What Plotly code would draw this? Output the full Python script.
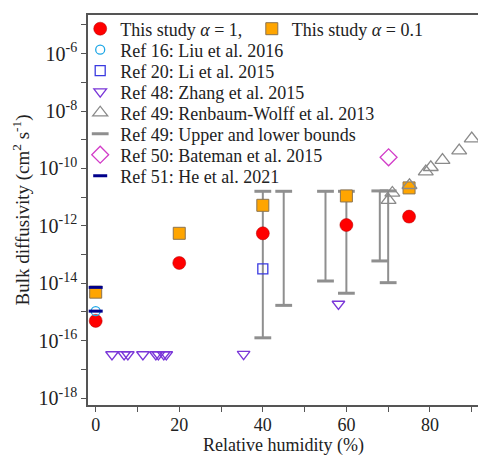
import plotly.graph_objects as go

FONT = "'Liberation Serif', 'Times New Roman', Times, 'DejaVu Serif', serif"

# ---- data (relative humidity %, bulk diffusivity cm^2 s^-1) ----
rh_alpha1 = [0, 20, 40, 60, 75]
D_alpha1 = [4.9e-16, 5.1e-14, 5.5e-13, 1.07e-12, 2.1e-12]

rh_alpha01 = [0, 20, 40, 60, 75]
D_alpha01 = [4.9e-15, 5.5e-13, 5.2e-12, 1.1e-11, 2.1e-11]

rh_ref16 = [0]
D_ref16 = [1.07e-15]

rh_ref20 = [40]
D_ref20 = [3.2e-14]

rh_ref48 = [3.9, 6.8, 7.7, 11.3, 14.4, 15.0, 16.3, 16.9, 35.4, 58.1]
D_ref48 = [3.3e-17, 3.3e-17, 3.3e-17, 3.3e-17, 3.3e-17, 3.3e-17, 3.3e-17, 3.3e-17, 3.4e-17, 1.9e-15]

rh_ref49 = [70.1, 71.0, 75.1, 79.0, 80.2, 83.0, 87.0, 90.0]
D_ref49 = [7.9e-12, 1.4e-11, 2.6e-11, 7.8e-11, 1.1e-10, 1.95e-10, 4.2e-10, 1.1e-9]

rh_bounds = [40, 45, 55, 60, 68, 70]
D_upper = [1.6e-11, 1.6e-11, 1.6e-11, 1.6e-11, 1.65e-11, 1.65e-11]
D_lower = [1.26e-16, 1.7e-15, 1.2e-14, 4.5e-15, 6.0e-14, 1.05e-14]

rh_ref50 = [70.1]
D_ref50 = [2.45e-10]

rh_ref51 = [0, 0]
D_ref51 = [7.2e-15, 1.07e-15]

y_exponents = list(range(-18, -4))
x_ticks = [0, 20, 40, 60, 80]

x_title = "Relative humidity (%)"
y_title = "Bulk diffusivity (cm<sup>2</sup> s<sup>-1</sup>)"

legend_names = {
    "a1": "This study <i>α</i> = 1,",
    "a01": "This study <i>α</i> = 0.1",
    "r16": "Ref 16: Liu et al. 2016",
    "r20": "Ref 20: Li et al. 2015",
    "r48": "Ref 48: Zhang et al. 2015",
    "r49": "Ref 49: Renbaum-Wolff et al. 2013",
    "r49b": "Ref 49: Upper and lower bounds",
    "r50": "Ref 50: Bateman et al. 2015",
    "r51": "Ref 51: He et al. 2021",
}

# ---- build bound segments from the data ----
seg_x, seg_y = [], []
for x, lo, hi in zip(rh_bounds, D_lower, D_upper):
    seg_x += [x, x, None]
    seg_y += [lo, hi, None]

BOUND_COL = "#8f8f8f"

fig = go.Figure()

fig.add_trace(go.Scatter(x=seg_x, y=seg_y, mode="lines",
                         line=dict(color=BOUND_COL, width=2),
                         showlegend=False, hoverinfo="skip"))
fig.add_trace(go.Scatter(x=rh_bounds + rh_bounds, y=D_upper + D_lower, mode="markers",
                         name=legend_names["r49b"], legend="legend7",
                         marker=dict(symbol="line-ew", size=12, color=BOUND_COL,
                                     line=dict(color=BOUND_COL, width=3))))

fig.add_trace(go.Scatter(x=rh_alpha01, y=D_alpha01, mode="markers",
                         name=legend_names["a01"], legend="legend2",
                         marker=dict(symbol="square", size=12, color="#ffa500",
                                     line=dict(color="#8a7350", width=1))))
fig.add_trace(go.Scatter(x=rh_alpha1, y=D_alpha1, mode="markers",
                         name=legend_names["a1"], legend="legend",
                         marker=dict(symbol="circle", size=13, color="#ff0000",
                                     line=dict(color="#b00000", width=0.5))))
fig.add_trace(go.Scatter(x=rh_ref16, y=D_ref16, mode="markers",
                         name=legend_names["r16"], legend="legend3",
                         marker=dict(symbol="circle-open", size=9, color="#1ea7e6",
                                     line=dict(width=1.3))))
fig.add_trace(go.Scatter(x=rh_ref20, y=D_ref20, mode="markers",
                         name=legend_names["r20"], legend="legend4",
                         marker=dict(symbol="square-open", size=10, color="#3a3ae0",
                                     line=dict(width=1.3))))
fig.add_trace(go.Scatter(x=rh_ref48, y=D_ref48, mode="markers",
                         name=legend_names["r48"], legend="legend5",
                         marker=dict(symbol="triangle-down-open", size=11, color="#7a36d8",
                                     line=dict(width=1.3))))
fig.add_trace(go.Scatter(x=rh_ref49, y=D_ref49, mode="markers",
                         name=legend_names["r49"], legend="legend6",
                         marker=dict(symbol="triangle-up-open", size=13, color="#8a8a8a",
                                     line=dict(width=1.3))))
fig.add_trace(go.Scatter(x=rh_ref50, y=D_ref50, mode="markers",
                         name=legend_names["r50"], legend="legend8",
                         marker=dict(symbol="diamond-open", size=13, color="#d23cc8",
                                     line=dict(width=1.3))))
fig.add_trace(go.Scatter(x=rh_ref51, y=D_ref51, mode="markers",
                         name=legend_names["r51"], legend="legend9",
                         marker=dict(symbol="line-ew", size=10, color="#00008b",
                                     line=dict(color="#00008b", width=3))))

AX_COL = "#555555"
TXT = "#222222"


def sup_label(k):
    if k % 2:
        return ""
    return "10<sup>%d</sup>" % k


# legend rows (pixel centre of each row inside the 478x455 page)
PLOT_TOP, PLOT_H = 15, 390
row_px = [29, 50, 71, 92, 113, 134, 155, 176]


def legend_box(px_y, x_paper):
    return dict(x=x_paper, y=1 - (px_y - PLOT_TOP) / PLOT_H,
                xanchor="left", yanchor="middle",
                bgcolor="rgba(0,0,0,0)", borderwidth=0,
                font=dict(size=18, family=FONT, color=TXT))


fig.update_layout(
    width=478, height=455,
    margin=dict(l=88, r=0, t=15, b=50, autoexpand=False),
    plot_bgcolor="white", paper_bgcolor="white",
    font=dict(family=FONT, size=18, color=TXT),
    xaxis=dict(
        range=[-1.84, 91.5], tickvals=x_ticks, automargin=False,
        ticks="outside", ticklen=5, tickwidth=1.2, tickcolor=AX_COL,
        ticklabelstandoff=-2,
        minor=dict(dtick=10, tick0=0, ticks="outside", ticklen=5, tickcolor=AX_COL, tickwidth=1.2),
        showline=True, linecolor=AX_COL, linewidth=1.5, mirror=True,
        showgrid=False, zeroline=False,
        tickfont=dict(size=18, family=FONT, color=TXT),
    ),
    yaxis=dict(
        type="log", range=[-18.24, -4.655], automargin=False,
        tickvals=[10.0 ** k for k in y_exponents],
        ticktext=[sup_label(k) for k in y_exponents],
        ticks="outside", ticklen=5, tickwidth=1.2, tickcolor=AX_COL,
        showline=True, linecolor=AX_COL, linewidth=1.5,
        showgrid=False, zeroline=False,
        tickfont=dict(size=20, family=FONT, color=TXT),
        title=dict(text=y_title, font=dict(size=19, family=FONT, color=TXT), standoff=4),
    ),
    annotations=[dict(text=x_title, xref="paper", yref="paper",
                      x=0.5, y=-(445 - 405) / PLOT_H, xanchor="center", yanchor="middle",
                      showarrow=False, font=dict(size=18, family=FONT, color=TXT))],
    legend=legend_box(row_px[0], -0.02),
    legend2=legend_box(row_px[0], 0.42),
    legend3=legend_box(row_px[1], -0.02),
    legend4=legend_box(row_px[2], -0.02),
    legend5=legend_box(row_px[3], -0.02),
    legend6=legend_box(row_px[4], -0.02),
    legend7=legend_box(row_px[5], -0.02),
    legend8=legend_box(row_px[6], -0.02),
    legend9=legend_box(row_px[7], -0.02),
)

fig.write_html("out.html")
